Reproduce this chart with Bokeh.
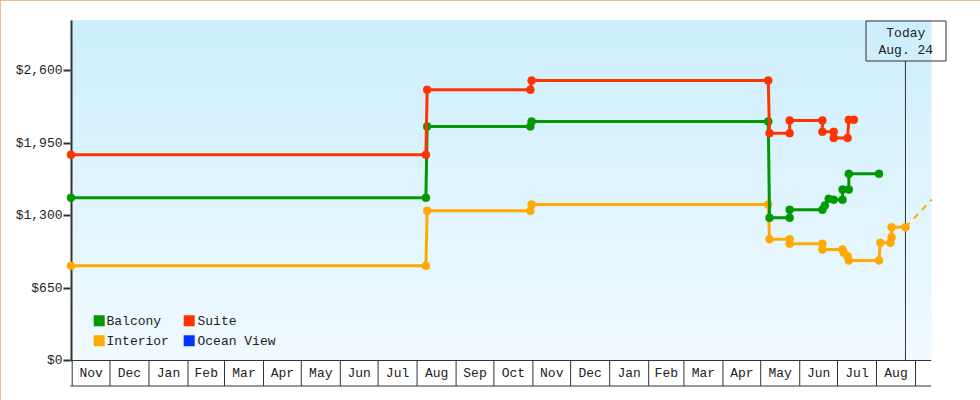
import numpy as np
import pandas as pd
from bokeh.plotting import figure
from bokeh.models import Range1d, FixedTicker, NumeralTickFormatter
from bokeh.core.properties import value
from bokeh.embed import file_html
from bokeh.resources import INLINE

# ---------------- data ----------------
SERIES_NAMES = ["Balcony", "Suite", "Interior", "Ocean View"]
SERIES_COLORS = ["#009900", "#ff3300", "#ffaa00", "#0033ff"]

BALCONY_DATES = ["2019-10-31", "2020-08-08", "2020-08-09", "2020-10-30", "2020-10-31",
                 "2021-05-07", "2021-05-08", "2021-05-24", "2021-05-24", "2021-06-19",
                 "2021-06-21", "2021-06-24", "2021-06-28", "2021-07-05", "2021-07-05",
                 "2021-07-10", "2021-07-10", "2021-08-03"]
BALCONY_PRICES = [1459, 1459, 2098, 2098, 2143,
                  2143, 1279, 1279, 1351, 1351,
                  1390, 1450, 1441, 1441, 1533,
                  1533, 1674, 1674]

SUITE_DATES = ["2019-10-31", "2020-08-08", "2020-08-09", "2020-10-30", "2020-10-31",
               "2021-05-07", "2021-05-08", "2021-05-24", "2021-05-24", "2021-06-19",
               "2021-06-19", "2021-06-28", "2021-06-28", "2021-07-09", "2021-07-10",
               "2021-07-14"]
SUITE_PRICES = [1844, 1844, 2427, 2427, 2510,
                2510, 2038, 2038, 2152, 2152,
                2050, 2050, 1995, 1995, 2158,
                2158]

INTERIOR_DATES = ["2019-10-31", "2020-08-08", "2020-08-09", "2020-10-30", "2020-10-31",
                  "2021-05-07", "2021-05-08", "2021-05-24", "2021-05-24", "2021-06-19",
                  "2021-06-19", "2021-07-05", "2021-07-06", "2021-07-09", "2021-07-10",
                  "2021-08-03", "2021-08-04", "2021-08-12", "2021-08-13", "2021-08-13",
                  "2021-08-24"]
INTERIOR_PRICES = [849, 849, 1342, 1342, 1399,
                   1399, 1088, 1088, 1046, 1046,
                   995, 995, 966, 935, 897,
                   897, 1055, 1055, 1105, 1195,
                   1195]

INTERIOR_FORECAST_DATES = ["2021-08-24", "2021-09-14"]
INTERIOR_FORECAST_PRICES = [1195, 1444]

Y_TICKS = [0, 650, 1300, 1950, 2600]
MONTH_LABELS = ["Nov", "Dec", "Jan", "Feb", "Mar", "Apr", "May", "Jun", "Jul", "Aug", "Sep",
                "Oct", "Nov", "Dec", "Jan", "Feb", "Mar", "Apr", "May", "Jun", "Jul", "Aug"]
FIRST_MONTH = "2019-11-01"
TODAY = "2021-08-24"
TODAY_TEXT = ["Today", "Aug. 24"]

# ---------------- layout helpers (page pixels -> data) ----------------
FONT = "Liberation Mono"
DARK = "#333333"
TEXT = "#222222"


def ms(d):
    return pd.Timestamp(d).value / 1e6


ORIGIN_MS = ms(FIRST_MONTH)
X_ORIGIN_PX = 71.7
PX_PER_DAY = 1.2587
DAY_MS = 86400000.0
Y_ZERO_PX = 360.0
PX_PER_USD = 72.5 / 650.0


def x_at(px):
    return ORIGIN_MS + (px - X_ORIGIN_PX) / PX_PER_DAY * DAY_MS


def y_at(py):
    return (Y_ZERO_PX - py) / PX_PER_USD


CHART_START = x_at(71.0)
CHART_END = x_at(930.7)

p = figure(width=980, height=400, output_backend="svg", toolbar_location=None,
           x_axis_location=None, x_range=Range1d(x_at(64), x_at(948)),
           y_range=Range1d(y_at(390), y_at(18)))
p.min_border_left = 64
p.min_border_right = 32
p.min_border_top = 18
p.min_border_bottom = 10
p.outline_line_color = None
p.background_fill_color = "white"
p.border_fill_color = "white"
p.grid.visible = False
p.styles = {"outline": "1px solid #e9a864", "outline-offset": "-1px"}

yax = p.yaxis[0]
yax.ticker = FixedTicker(ticks=Y_TICKS)
yax.formatter = NumeralTickFormatter(format="$0,0")
yax.axis_line_color = None
yax.major_tick_in = 6
yax.major_tick_out = 1
yax.major_tick_line_width = 2
yax.major_tick_line_color = DARK
yax.minor_tick_line_color = None
yax.major_label_standoff = 1
yax.major_label_text_font = FONT
yax.major_label_text_font_size = "13px"
yax.major_label_text_color = TEXT

# background gradient
n = 85
edges = np.linspace(0, y_at(20), n + 1)
t = (np.arange(n) + 0.5) / n
bot_rgb = np.array([241, 250, 255])
top_rgb = np.array([204, 238, 252])
grad = ["#%02x%02x%02x" % tuple(int(round(c)) for c in (bot_rgb + (top_rgb - bot_rgb) * ti)) for ti in t]
p.quad(left=CHART_START, right=CHART_END, bottom=edges[:-1], top=edges[1:],
       fill_color=grad, line_color=grad, line_width=0.6)

# axis line
p.segment(x0=[CHART_START], y0=[y_at(361)], x1=[CHART_START], y1=[y_at(20)],
          line_color=DARK, line_width=2)

# month boxes
starts = [ms(d) for d in pd.date_range(FIRST_MONTH, periods=len(MONTH_LABELS) + 1, freq="MS")]
box_bottom = y_at(385.5)
p.segment(x0=starts, y0=[0] * len(starts), x1=starts, y1=[box_bottom] * len(starts),
          line_color=DARK, line_width=1)
p.segment(x0=[starts[0], x_at(70)], y0=[0, box_bottom], x1=[CHART_END, CHART_END],
          y1=[0, box_bottom], line_color=DARK, line_width=1)
mids = [(a + b) / 2 for a, b in zip(starts[:-1], starts[1:])]
p.text(x=mids, y=[y_at(373.3)] * len(mids), text=MONTH_LABELS, text_font=value(FONT),
       text_font_size="13px", text_align="center", text_baseline="middle",
       text_color=TEXT)

# today marker
today = ms(TODAY)
p.segment(x0=[today], y0=[y_at(60.5)], x1=[today], y1=[0], line_color=DARK, line_width=1)
p.quad(left=x_at(865.5), right=x_at(945.5), top=y_at(20.5), bottom=y_at(60.5),
       fill_color=None, line_color=DARK, line_width=1)
p.text(x=[x_at(905.3)] * 2, y=[y_at(32.5), y_at(50.3)], text=TODAY_TEXT,
       text_font=value(FONT), text_font_size="13px", text_align="center",
       text_baseline="middle", text_color=TEXT)

# series
series = {
    "Interior": (INTERIOR_DATES, INTERIOR_PRICES),
    "Balcony": (BALCONY_DATES, BALCONY_PRICES),
    "Suite": (SUITE_DATES, SUITE_PRICES),
}
color_of = dict(zip(SERIES_NAMES, SERIES_COLORS))

p.line([ms(d) for d in INTERIOR_FORECAST_DATES], INTERIOR_FORECAST_PRICES,
       line_color=color_of["Interior"], line_width=2, line_dash="6 6")

for name, (dates, prices) in series.items():
    xs = [ms(d) for d in dates]
    p.line(xs, prices, line_color=color_of[name], line_width=3, line_join="miter")
    p.scatter(xs, prices, marker="circle", size=8, fill_color=color_of[name],
              line_color=color_of[name], line_width=0.5)

# legend (drawn as glyphs)
leg_sq_x = [x_at(98.7), x_at(188.7), x_at(98.7), x_at(188.7)]
leg_sq_y = [y_at(320.3), y_at(320.3), y_at(340.3), y_at(340.3)]
p.scatter(leg_sq_x, leg_sq_y, marker="square", size=11, fill_color=SERIES_COLORS,
          line_color=None)
p.text(x=[x_at(106), x_at(197), x_at(106), x_at(197)],
       y=[y_at(320.8), y_at(320.8), y_at(340.8), y_at(340.8)],
       text=SERIES_NAMES, text_font=value(FONT), text_font_size="13px",
       text_align="left", text_baseline="middle", text_color=TEXT)

open("out.html", "w").write(file_html(p, INLINE))
